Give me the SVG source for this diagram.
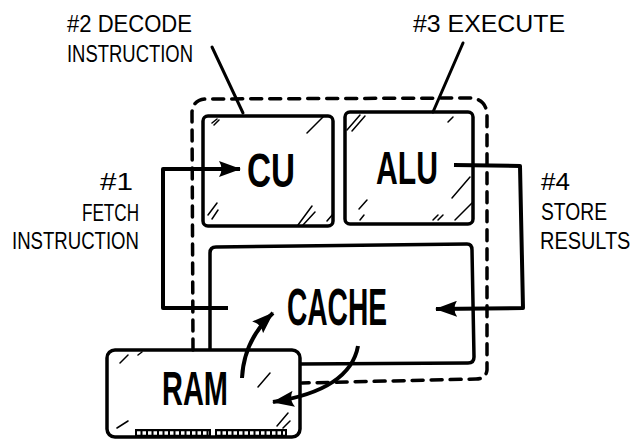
<svg xmlns="http://www.w3.org/2000/svg" width="640" height="441" viewBox="0 0 640 441">
<defs>
<style>
.box{fill:none;stroke:#000;stroke-width:3.5;stroke-linejoin:round}
.dash{fill:none;stroke:#000;stroke-width:3.5;stroke-dasharray:11 8;stroke-linecap:round}
.conn{fill:none;stroke:#000;stroke-width:4;stroke-linejoin:round}
.ptr{fill:none;stroke:#000;stroke-width:3;stroke-linecap:round}
.hatch{fill:none;stroke:#000;stroke-width:1.5;stroke-linecap:round}
.lbl{font-family:"Liberation Sans",Arial,sans-serif;font-size:24px;fill:#000}
.big{font-family:"Liberation Sans",Arial,sans-serif;font-weight:bold;fill:#000}
</style>
<marker id="ah" viewBox="0 0 22 16" refX="21" refY="8" markerWidth="22" markerHeight="16" markerUnits="userSpaceOnUse" orient="auto">
<path d="M0,0 L22,8 L0,16 Q5,8 0,0 z" fill="#000"/>
</marker>
</defs>
<rect width="640" height="441" fill="#fff"/>

<g id="cpu-boundary">
<path class="dash" d="M193,350 L192,112 Q193,100 205,99 L472,98 Q486,100 487,114 L487,370 Q486,379 476,379 L302,383"/>
</g>

<g id="cu">
<rect class="box" x="203" y="116" width="130" height="110" rx="5"/>
<text class="big" x="247" y="187" font-size="48" textLength="48" lengthAdjust="spacingAndGlyphs">CU</text>
<path class="hatch" d="M212,123 L217,119 M214,125 L219,120 M307,133 L323,117 M208,215 L217,203 M212,219 L218,210 M298,225 L312,206 M303,225 L315,212 M327,221 L333,214"/>
</g>

<g id="alu">
<rect class="box" x="345" y="112" width="128" height="112" rx="5"/>
<text class="big" x="376" y="184" font-size="46" textLength="62" lengthAdjust="spacingAndGlyphs">ALU</text>
<path class="hatch" d="M347,130 L360,115 M352,131 L365,116 M448,122 L453,117 M359,209 L367,200 M360,220 L364,215 M452,198 L470,177 M455,220 L472,203 M433,220 L438,215 M438,220 L443,215"/>
</g>

<g id="cache">
<path class="box" d="M210,350 L210,253 Q210,247 216,247 L467,244 Q472,244 472,250 L474,357 Q474,363 468,363 L300,364"/>
<text class="big" x="287" y="325" font-size="52" textLength="100" lengthAdjust="spacingAndGlyphs">CACHE</text>
</g>

<g id="ram">
<rect class="box" x="107" y="350" width="193" height="87" rx="8" fill="#fff"/>
<rect x="135" y="429" width="76" height="8" fill="#000"/>
<rect x="215" y="429" width="72" height="8" fill="#000"/>
<line x1="137" y1="433" x2="209" y2="433" stroke="#fff" stroke-width="3.5" stroke-dasharray="3.5 2"/>
<line x1="217" y1="433" x2="285" y2="433" stroke="#fff" stroke-width="3.5" stroke-dasharray="3.5 2"/>
<text class="big" x="162" y="405" font-size="48" textLength="66" lengthAdjust="spacingAndGlyphs">RAM</text>
<path class="hatch" d="M120,363 L128,355 M138,355 L142,352 M258,387 L270,373 M117,428 L128,421 M277,426 L288,413 M283,428 L290,421"/>
</g>

<g id="labels">
<text class="lbl" x="67" y="32" textLength="125" lengthAdjust="spacingAndGlyphs">#2 DECODE</text>
<text class="lbl" x="67" y="62" textLength="126" lengthAdjust="spacingAndGlyphs">INSTRUCTION</text>
<text class="lbl" x="413" y="32" textLength="152" lengthAdjust="spacingAndGlyphs">#3 EXECUTE</text>
<text class="lbl" x="100" y="190" textLength="33" lengthAdjust="spacingAndGlyphs">#1</text>
<text class="lbl" x="82" y="221" textLength="57" lengthAdjust="spacingAndGlyphs">FETCH</text>
<text class="lbl" x="12" y="249" textLength="127" lengthAdjust="spacingAndGlyphs">INSTRUCTION</text>
<text class="lbl" x="541" y="190" textLength="29" lengthAdjust="spacingAndGlyphs">#4</text>
<text class="lbl" x="541" y="220" textLength="66" lengthAdjust="spacingAndGlyphs">STORE</text>
<g transform="translate(540,249) scale(0.83,1)">
<text class="lbl" x="0" y="0">RESULTS</text>
</g>
</g>

<g id="connectors">
<path class="conn" d="M228,308 L163,308 L163,169 L240,169" marker-end="url(#ah)"/>
<path class="conn" d="M454,165 L520,166 L523,308 L436,309" marker-end="url(#ah)"/>
<path class="ptr" d="M212,47 L243,113"/>
<path class="ptr" d="M463,43 L433,112"/>
<path class="conn" d="M242,378 Q244,340 273,313" marker-end="url(#ah)"/>
<path class="conn" d="M358,346 Q350,390 273,402" marker-end="url(#ah)"/>
</g>
</svg>
